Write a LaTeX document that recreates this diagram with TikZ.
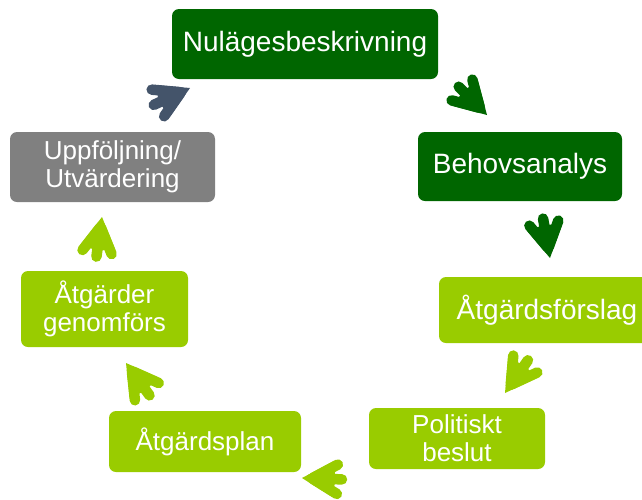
\documentclass[tikz,border=0pt]{standalone}
\usepackage{fontspec}
\setmainfont{Liberation Sans}
\usepackage{xcolor}

\definecolor{stagedark}{RGB}{0,102,0}
\definecolor{stagelight}{RGB}{153,204,0}
\definecolor{stagegray}{RGB}{128,128,128}
\definecolor{backblue}{RGB}{68,84,106}

\begin{document}
\begin{tikzpicture}[x=1pt, y=-1pt]
    % Define styles
    \tikzset{
        stage/.style={rectangle, rounded corners=7pt, text=white, align=center, inner sep=0pt},
        bigstage/.style={stage, font=\fontsize{28}{30}\selectfont},
        smallstage/.style={stage, font=\fontsize{26}{28}\selectfont},
        pics/cyclearrow/.style={code={
            \fill (0,0) -- (-30.3,17.5) -- (-34,0) -- (-30.3,-17.5) -- cycle;
            \draw[line width=10.5pt, line cap=round] (-11.2,0.7) -- (-35.4,14.7);
            \draw[line width=10.5pt, line cap=round] (-11.2,-0.7) -- (-35.4,-14.7);
            \draw[line width=10.5pt, line cap=round] (-10,0) -- (-40,0);
        }}
    }
    \useasboundingbox (0,0) rectangle (642,499);
    \clip (0,0) rectangle (642,499);

    % Stages, clockwise from the top
    \node[bigstage, fill=stagedark, minimum width=266, minimum height=70] (nulage) at (305,44) {Nulägesbeskrivning};
    \node[bigstage, fill=stagedark, minimum width=204, minimum height=69] (behov) at (520,166.5) {Behovsanalys};
    \node[bigstage, fill=stagelight, minimum width=216, minimum height=66] (forslag) at (547,310) {Åtgärdsförslag};
    \node[smallstage, fill=stagelight, minimum width=176, minimum height=61] (beslut) at (457,438.5) {Politiskt\\beslut};
    \node[smallstage, fill=stagelight, minimum width=192, minimum height=61] (plan) at (205,441.5) {Åtgärdsplan};
    \node[smallstage, fill=stagelight, minimum width=167, minimum height=76] (genomfors) at (104.5,309) {Åtgärder\\genomförs};
    \node[smallstage, fill=stagegray, minimum width=205, minimum height=70] (uppfoljning) at (112.5,167) {Uppföljning/\\Utvärdering};

    % Arrows between the stages
    \pic[color=stagedark, rotate=-45] at (487,115) {cyclearrow};
    \pic[color=stagedark, rotate=-80] at (550,258) {cyclearrow};
    \pic[color=stagelight, rotate=-125] at (505,393) {cyclearrow};
    \pic[color=stagelight, rotate=178] at (302,478) {cyclearrow};
    \pic[color=stagelight, rotate=126] at (126,363) {cyclearrow};
    \pic[color=stagelight, rotate=82] at (102,217) {cyclearrow};
    \pic[color=backblue, rotate=25] at (190,88) {cyclearrow};

\end{tikzpicture}
\end{document}
